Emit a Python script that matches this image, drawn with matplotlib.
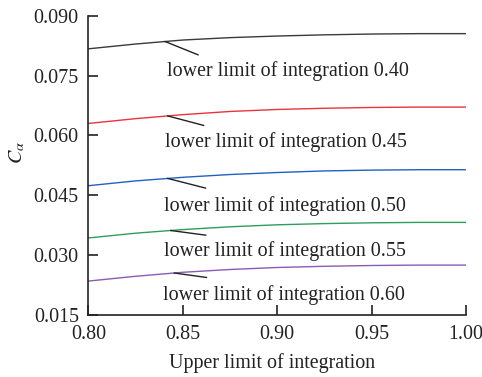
import matplotlib
matplotlib.use("Agg")
import matplotlib.pyplot as plt
import numpy as np

upper_limit = [0.80, 0.825, 0.85, 0.875, 0.90, 0.925, 0.95, 0.975, 1.00]
c_040 = [0.0817, 0.0829, 0.0839, 0.0845, 0.0849, 0.0852, 0.0854, 0.0855, 0.0855]
c_045 = [0.0630, 0.0642, 0.0652, 0.0660, 0.0665, 0.0668, 0.0670, 0.0671, 0.0671]
c_050 = [0.0474, 0.0486, 0.0495, 0.0502, 0.0507, 0.0511, 0.0513, 0.0514, 0.0514]
c_055 = [0.0343, 0.0355, 0.0364, 0.0371, 0.0376, 0.0379, 0.0381, 0.0382, 0.0382]
c_060 = [0.0235, 0.0247, 0.0257, 0.0264, 0.0269, 0.0272, 0.0274, 0.0275, 0.0275]
labels = ["lower limit of integration 0.40", "lower limit of integration 0.45",
          "lower limit of integration 0.50", "lower limit of integration 0.55",
          "lower limit of integration 0.60"]
colors = ["#3a3a3a", "#e8343f", "#1f62c0", "#2e9e5b", "#8a5bb5"]
# annotation: arrow start (on curve), arrow end, text position (left, center)
ann_start_x = [0.8406, 0.842, 0.842, 0.8436, 0.8455]
ann_end = [(0.858, 0.0802), (0.861, 0.0625), (0.862, 0.0468), (0.8621, 0.0350), (0.8625, 0.0244)]
text_pos = [(0.8415, 0.0762), (0.8405, 0.0583), (0.840, 0.0422), (0.840, 0.0309), (0.8395, 0.0201)]
yticks = [0.015, 0.030, 0.045, 0.060, 0.075, 0.090]
xticks = [0.80, 0.85, 0.90, 0.95, 1.00]

plt.rcParams['font.family'] = ['Liberation Serif', 'DejaVu Serif']
plt.rcParams['mathtext.fontset'] = 'stix'

fig = plt.figure(figsize=(4.82, 3.77), dpi=100)
ax = fig.add_axes([0.1836, 0.1645, 0.9668 - 0.1836, 0.9584 - 0.1645])

series = [c_040, c_045, c_050, c_055, c_060]
for ys, col, lab, sx, end, tp in zip(series, colors, labels, ann_start_x, ann_end, text_pos):
    ax.plot(upper_limit, ys, color=col, lw=1.0)
    sy = float(np.interp(sx, upper_limit, ys))
    ax.plot([sx, end[0]], [sy, end[1]], color="#222222", lw=1.0)
    ax.text(tp[0], tp[1], lab, ha='left', va='center', fontsize=14.4, color="#222222")

ax.set_xlim(0.80, 1.00)
ax.set_ylim(0.015, 0.090)
ax.set_xticks(xticks)
ax.set_xticklabels([f"{v:.2f}" for v in xticks])
ax.set_yticks(yticks)
ax.set_yticklabels([f"{v:.3f}" for v in yticks])
ax.tick_params(direction='in', length=7, width=1.2, labelsize=14.4, colors="#222222", pad=7)
for s in ['top', 'right']:
    ax.spines[s].set_visible(False)
for s in ['left', 'bottom']:
    ax.spines[s].set_linewidth(1.2)
    ax.spines[s].set_color("#222222")
ax.set_xlabel("Upper limit of integration", fontsize=14.4, color="#222222")
ax.xaxis.set_label_coords((272 - 88.5) / 377.5, (315 - 363) / 299.3)
ax.xaxis.label.set_va('center')
ax.set_ylabel(r"$C_\alpha$", fontsize=14.4, color="#222222")
ax.yaxis.set_label_coords((17 - 88.5) / 377.5, (315 - 153) / 299.3)
ax.yaxis.label.set_va('center')

fig.savefig("out.png", dpi=100)
